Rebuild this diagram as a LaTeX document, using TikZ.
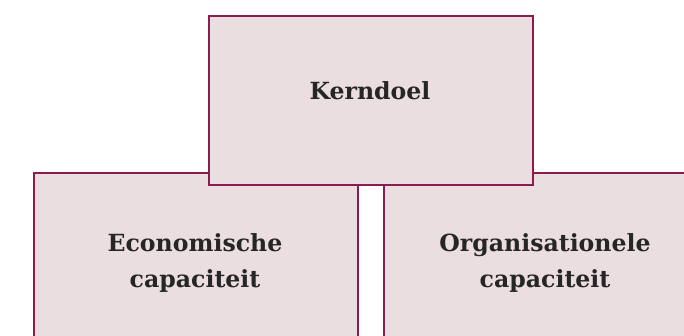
\documentclass[tikz,border=0pt]{standalone}
\usepackage{fontspec}
\setmainfont{DejaVu Serif}
\definecolor{boxline}{HTML}{8C1B4F}
\definecolor{boxfill}{HTML}{EBDEE0}
\definecolor{ink}{HTML}{262626}
\begin{document}
\begin{tikzpicture}[x=1pt,y=1pt,
  block/.style={draw=boxline,fill=boxfill,line width=2.2pt,inner sep=0pt,
    minimum width=324pt,anchor=north west},
  label/.style={text=ink,font=\bfseries\fontsize{23.6}{23.6}\selectfont,anchor=base,inner sep=0pt}]
\useasboundingbox (0,0) rectangle (684,335);
\clip (0,0) rectangle (684,335);
% lower row of blocks, running past the lower and right edges
\node[block,minimum height=190pt] (econ) at (33,163) {};
\node[block,minimum height=190pt] (org) at (383,163) {};
% upper block laid over both
\node[block,minimum height=169pt] (kern) at (208,320) {};
% texts
\node[label] (kerntxt) at (370,235) {Kerndoel};
\node[label] (econ1) at (195,84) {Economische};
\node[label] (econ2) at (195,48) {capaciteit};
\node[label] (org1) at (545,84) {Organisationele};
\node[label] (org2) at (545,48) {capaciteit};
\end{tikzpicture}
\end{document}
